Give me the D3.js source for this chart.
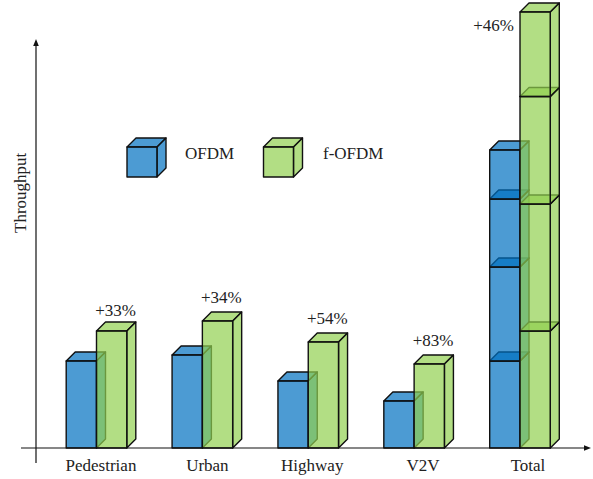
<!DOCTYPE html>
<html><head><meta charset="utf-8">
<script src="https://cdn.jsdelivr.net/npm/d3@7"></script>
<style>html,body{margin:0;padding:0;background:#fff}svg{display:block}text{font-family:"Liberation Serif",serif;fill:#222;font-size:17px}</style>
</head><body><svg id="c" width="593" height="479"></svg>
<script>
const categories=["Pedestrian","Urban","Highway","V2V","Total"];
const ofdm=[0.87,0.93,0.67,0.47];
const fofdm=[1.17,1.27,1.06,0.84];
const totalOfdm=[0.87,0.94,0.68,0.49];
const totalFofdm=[1.17,1.27,1.075,0.845];
const gains=["+33%","+34%","+54%","+83%","+46%"];
const legendNames=["OFDM","f-OFDM"];
const yLabel="Throughput";
const blue="#0070C0",green="#92D050";
const W=593,H=479,base=448,depth=9;
const svg=d3.select("#c");
const x=d3.scalePoint().domain(categories).range([96.5,520]);
const y=d3.scaleLinear().domain([0,4.4]).range([base,8]);
const bw=30.3;
const labelShift=[4.5,5,4,9,8];
const gainDy=[15,18,18,18];
function cube(g,x0,x1,yTop,yBot,color){
  const layer=g.append("g").attr("fill",color).attr("fill-opacity",0.7).attr("stroke","#111").attr("stroke-width",1.4).attr("stroke-linejoin","round");
  const poly=(pts)=>layer.append("path").attr("d",d3.line()(pts)+"Z");
  poly([[x0,yTop],[x1,yTop],[x1+depth,yTop-depth],[x0+depth,yTop-depth]]);
  poly([[x1,yTop],[x1+depth,yTop-depth],[x1+depth,yBot-depth],[x1,yBot]]);
  poly([[x0,yTop],[x1,yTop],[x1,yBot],[x0,yBot]]);
}
const plot=svg.append("g");
function stack(values,x0,x1,color){
  let acc=0;
  values.forEach(v=>{cube(plot,x0,x1,y(acc+v),y(acc),color);acc+=v;});
}
const ax=svg.append("g").attr("stroke","#111").attr("stroke-width",1.2).attr("fill","#111");
ax.append("line").attr("x1",36).attr("x2",36).attr("y1",463).attr("y2",44);
ax.append("path").attr("stroke","none").attr("d","M36 39L33.2 46L38.8 46Z");
ax.append("line").attr("x1",21).attr("x2",586).attr("y1",base).attr("y2",base);
ax.append("path").attr("stroke","none").attr("d","M591 448L584 445.2L584 450.8Z");
categories.forEach((c,i)=>{
  const c0=x(c);
  if(i<4){
    stack([ofdm[i]],c0-bw,c0,blue);
    stack([fofdm[i]],c0,c0+bw,green);
  }else{
    stack(totalOfdm,c0-bw,c0,blue);
    stack(totalFofdm,c0,c0+bw,green);
  }
  svg.append("text").attr("x",c0+labelShift[i]).attr("y",471).attr("text-anchor","middle").text(c);
});
categories.forEach((c,i)=>{
  const top=i<4?fofdm[i]:d3.sum(totalFofdm);
  const t=svg.append("text").text(gains[i]);
  if(i<4) t.attr("x",x(c)+19).attr("y",y(top)-gainDy[i]).attr("text-anchor","middle");
  else t.attr("x",x(c)-6).attr("y",y(top)+19).attr("text-anchor","end");
});
svg.append("text").attr("transform","translate(26,233) rotate(-90)").attr("text-anchor","start").text(yLabel);
const lg=svg.append("g");
[[127,157,blue,185],[263.5,293.5,green,323]].forEach((d,i)=>{
  cube(lg,d[0],d[1],147,177,d[2]);
  lg.append("text").attr("x",d[3]).attr("y",159).text(legendNames[i]);
});
</script></body></html>
